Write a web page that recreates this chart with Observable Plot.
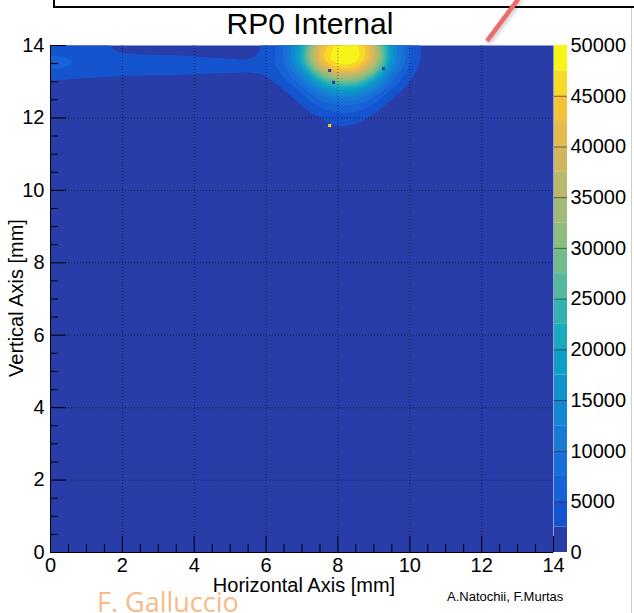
<!DOCTYPE html>
<html>
<head>
<meta charset="utf-8">
<script src="https://cdn.jsdelivr.net/npm/d3@7"></script>
<script src="https://cdn.jsdelivr.net/npm/@observablehq/plot@0.6"></script>
<style>
html, body { margin: 0; padding: 0; background: #fff; }
#wrap { position: relative; width: 634px; height: 613px; overflow: hidden; font-family: "Liberation Sans", Arial, Helvetica, sans-serif; }
#wrap > svg, #wrap > div { position: absolute; }
.t { position: absolute; white-space: nowrap; line-height: 1; color: #000; }
</style>
</head>
<body>
<div id="wrap"></div>
<script>
// ---- data ----
const title = "RP0 Internal";
const xLabel = "Horizontal Axis [mm]";
const yLabel = "Vertical Axis [mm]";
const author = "F. Galluccio";
const credit = "A.Natochii, F.Murtas";

// sample grid (bin centres, mm)
const xCenters = [0,0.5,1,1.5,2,2.5,3,3.5,4,4.5,5,5.5,6,6.5,7,7.5,8,8.5,9,9.5,10,10.5,11,11.5,12,12.5,13,13.5,14];
const yRows = [14,13.75,13.5,13.25,13,12.75,12.5,12.25,12,11.75,11.5];

// counts per row (below 11.5 mm everything is in the lowest level)
const row1400 = [3500,3000,2700,2300,1500,1400,1300,1300,1200,1100,1000,1200,2800,6500,18500,41000,49000,48500,38000,14000,4500,1000,0,0,0,0,0,0,0];
const row1375 = [5200,4800,4000,3500,2600,2500,2400,2400,2300,2100,2000,1800,3000,7500,22000,46000,50000,50000,43000,16000,5000,1000,0,0,0,0,0,0,0];
const row1350 = [6000,5600,5000,4200,3800,3700,3600,3600,3500,3300,3200,3000,3300,6800,20000,43000,50000,49500,39000,14000,4500,800,0,0,0,0,0,0,0];
const row1325 = [5000,4200,3800,3500,3300,3200,3100,3100,3000,2900,2900,2800,3000,5200,14000,31000,42000,41000,28000,10000,3200,500,0,0,0,0,0,0,0];
const row1300 = [2000,1800,1600,1500,1400,1300,1300,1300,1200,1100,1000,1000,1500,3500,9000,20000,28000,27000,17000,6500,2200,0,0,0,0,0,0,0,0];
const row1275 = [500,400,300,200,200,200,200,200,200,200,200,200,500,2200,5500,12500,17500,16500,10500,4000,1000,0,0,0,0,0,0,0,0];
const row1250 = [0,0,0,0,0,0,0,0,0,0,0,0,0,1000,3200,7000,10000,9500,6000,2000,300,0,0,0,0,0,0,0,0];
const row1225 = [0,0,0,0,0,0,0,0,0,0,0,0,0,300,1800,4200,6000,5800,3500,1000,0,0,0,0,0,0,0,0,0];
const row1200 = [0,0,0,0,0,0,0,0,0,0,0,0,0,0,800,2200,3800,3300,1800,300,0,0,0,0,0,0,0,0,0];
const row1175 = [0,0,0,0,0,0,0,0,0,0,0,0,0,0,0,1000,2700,2200,600,0,0,0,0,0,0,0,0,0,0];
const row1150 = [0,0,0,0,0,0,0,0,0,0,0,0,0,0,0,0,700,500,0,0,0,0,0,0,0,0,0,0,0];

// isolated pixels
const pixelX = [7.77, 7.88, 9.27, 7.77];
const pixelY = [13.31, 12.98, 13.36, 11.79];
const pixelV = [0, 0, 0, 46000];

// axes
const majorTicks = [0,2,4,6,8,10,12,14];
const gridTicks = [2,4,6,8,10,12];
const minorTicks = [0.5,1,1.5,2.5,3,3.5,4.5,5,5.5,6.5,7,7.5,8.5,9,9.5,10.5,11,11.5,12.5,13,13.5];
const colorTicks = [0,5000,10000,15000,20000,25000,30000,35000,40000,45000,50000];
const colorLevels = [0,2500,5000,7500,10000,12500,15000,17500,20000,22500,25000,27500,30000,32500,35000,37500,40000,42500,45000,47500];

// ---- styles ----
const bandColors = ["#283DA8","#1554CF","#1762D6","#186FD8","#177BD6","#1387D2","#0F93CC","#0E9FC6","#1AAABE","#33B3B0",
                    "#55B89D","#72BB8A","#8CBC7E","#A3BA76","#BAB86C","#CFB760","#E4B94F","#F4C23A","#F7D928","#F7F419"];
const font = "'Liberation Sans', Arial, Helvetica, sans-serif";

const grid = [row1400,row1375,row1350,row1325,row1300,row1275,row1250,row1225,row1200,row1175,row1150];
const samples = grid.flatMap((row, j) => row.map((v, i) => ({x: xCenters[i], y: yRows[j], v})));
const thresholds = colorLevels.slice(1);
const colorScale = {type: "threshold", domain: thresholds, range: bandColors};

const W = 634, H = 613;
const wrap = document.getElementById("wrap");

const main = Plot.plot({
  width: W, height: H,
  marginLeft: 50, marginRight: 81, marginTop: 45, marginBottom: 61,
  style: {fontFamily: font, fontSize: "20px", color: "#000", background: "transparent", overflow: "visible"},
  x: {domain: [0, 14]},
  y: {domain: [0, 14]},
  color: colorScale,
  marks: [
    Plot.frame({fill: bandColors[0]}),
    Plot.contour(samples, {
      x: "x", y: "y", fill: "v", thresholds,
      interpolate: "barycentric", pixelSize: 2, blur: 2, clip: true
    }),
    Plot.dot(pixelV, {x: pixelX, y: pixelY, fill: pixelV, symbol: "square", r: 1.7}),
    Plot.gridX({ticks: gridTicks, stroke: "#000", strokeOpacity: 0.55, strokeDasharray: "1,2"}),
    Plot.gridY({ticks: gridTicks, stroke: "#000", strokeOpacity: 0.55, strokeDasharray: "1,2"}),
    Plot.axisX({ticks: majorTicks, tickSize: -16, tickFormat: () => "", label: null}),
    Plot.axisX({ticks: minorTicks, tickSize: -8, tickFormat: () => "", label: null}),
    Plot.axisY({ticks: majorTicks, tickSize: -16, tickFormat: () => "", label: null}),
    Plot.axisY({ticks: minorTicks, tickSize: -8, tickFormat: () => "", label: null}),
    Plot.axisX({ticks: majorTicks, tickSize: 0, tickPadding: 5, fontSize: 20, label: null}),
    Plot.axisY({ticks: majorTicks, tickSize: 0, tickPadding: 6, fontSize: 20, label: null}),
    Plot.ruleX([0], {stroke: "#000"}),
    Plot.ruleY([0], {stroke: "#000"})
  ]
});
main.style.left = "0px"; main.style.top = "0px";
wrap.appendChild(main);

const bar = Plot.plot({
  width: 81, height: H,
  marginLeft: 1, marginRight: 67, marginTop: 45, marginBottom: 61,
  style: {fontFamily: font, fontSize: "20px", color: "#000", background: "transparent", overflow: "visible"},
  y: {domain: [0, 50000]},
  color: colorScale,
  marks: [
    Plot.rect(colorLevels, {y1: d => d, y2: d => d + (colorLevels[1] - colorLevels[0]), fill: d => d}),
    Plot.ruleY(colorTicks.slice(1, -1), {stroke: "#000", strokeOpacity: 0.45, strokeWidth: 1.2}),
    Plot.axisY({anchor: "right", ticks: colorTicks, tickSize: 0, tickPadding: 3, fontSize: 20, label: null, tickFormat: d => String(d)})
  ]
});
bar.style.left = "553px"; bar.style.top = "0px";
wrap.appendChild(bar);

// decorations and texts
function addText(txt, css) {
  const d = document.createElement("div");
  d.className = "t";
  d.textContent = txt;
  Object.assign(d.style, css);
  wrap.appendChild(d);
  return d;
}
const box = document.createElement("div");
Object.assign(box.style, {left: "53px", top: "-30px", width: "640px", height: "36px", borderLeft: "2px solid #000", borderBottom: "2px solid #000"});
wrap.appendChild(box);
const edge = document.createElement("div");
Object.assign(edge.style, {left: "631px", top: "8px", width: "1px", height: "605px", background: "#cfcfcf"});
wrap.appendChild(edge);

const ns = "http://www.w3.org/2000/svg";
const deco = document.createElementNS(ns, "svg");
deco.setAttribute("width", W); deco.setAttribute("height", H);
deco.style.left = "0px"; deco.style.top = "0px"; deco.style.pointerEvents = "none";
const ln = document.createElementNS(ns, "line");
ln.setAttribute("x1", 519); ln.setAttribute("y1", -2); ln.setAttribute("x2", 487); ln.setAttribute("y2", 41);
ln.setAttribute("stroke", "#EF6B6B"); ln.setAttribute("stroke-width", 4.5);
ln.setAttribute("style", "filter: drop-shadow(1px 2px 2px rgba(0,0,0,0.25))");
deco.appendChild(ln);
wrap.appendChild(deco);

addText(title, {left: "310px", top: "9px", fontSize: "30px", transform: "translateX(-50%)"});
addText(xLabel, {left: "304px", top: "575px", fontSize: "20px", transform: "translateX(-50%)"});
addText(yLabel, {left: "16px", top: "298px", fontSize: "20px", transform: "translate(-50%,-50%) rotate(-90deg)"});
addText(author, {left: "97px", top: "588px", fontSize: "27px", color: "#F9BA88", fontFamily: "'Open Sans', sans-serif"});
addText(credit, {left: "447px", top: "590px", fontSize: "13px"});
</script>
</body>
</html>
